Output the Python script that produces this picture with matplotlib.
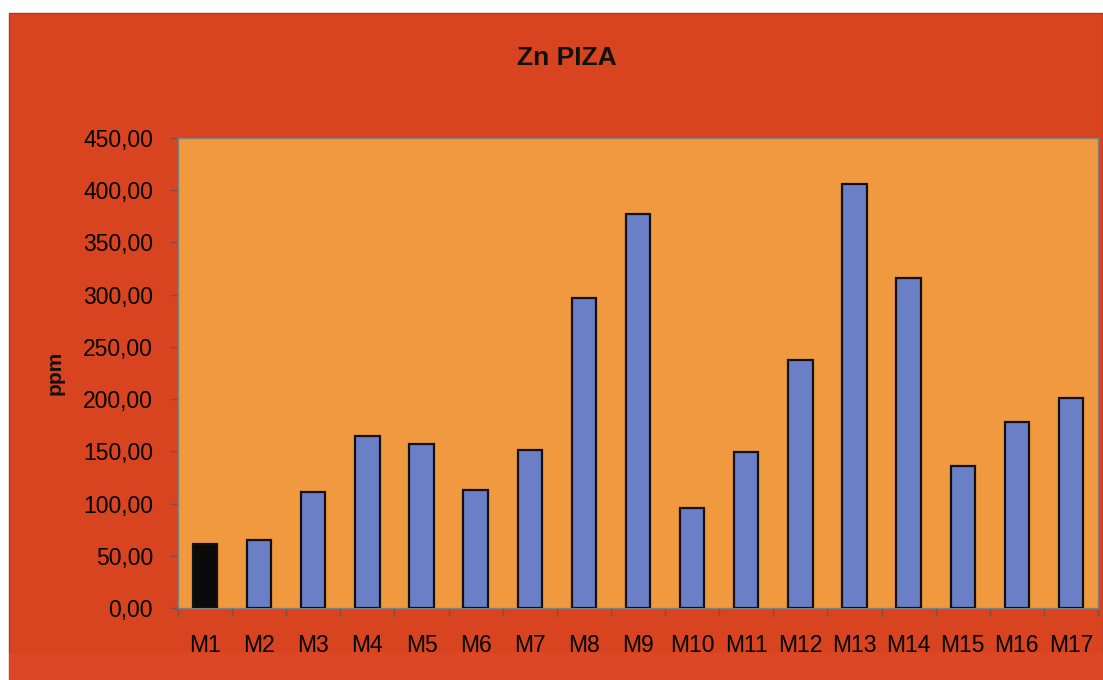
import matplotlib
matplotlib.use("Agg")
import matplotlib.pyplot as plt
from matplotlib.patches import Rectangle
import numpy as np

categories = ["M1", "M2", "M3", "M4", "M5", "M6", "M7", "M8", "M9", "M10",
              "M11", "M12", "M13", "M14", "M15", "M16", "M17"]
values = [61, 65, 111, 165, 157, 113, 151, 297, 377, 96,
          149, 237, 406, 316, 136, 178, 201]
bar_colors = ["#0a0a0a"] + ["#6a7fc6"] * 16
yticks = [0, 50, 100, 150, 200, 250, 300, 350, 400, 450]

plt.rcParams['font.family'] = ['Liberation Sans', 'DejaVu Sans']

W, H = 1103, 680
fig = plt.figure(figsize=(W / 100, H / 100), dpi=100)
fig.patch.set_facecolor("white")

# chart area background (red)
bg = Rectangle((9 / W, 0), (W - 9) / W, (H - 13) / H,
               transform=fig.transFigure, facecolor="#d8441f",
               edgecolor="#b03a20", linewidth=1.0, zorder=-10)
fig.add_artist(bg)
strip = Rectangle((9 / W, 0), (W - 9) / W, 27 / H,
                  transform=fig.transFigure, facecolor="#dc4826",
                  edgecolor="none", zorder=-9)
fig.add_artist(strip)

ax = fig.add_axes([178 / W, (H - 608) / H, 920 / W, 470 / H])
ax.set_zorder(1)
ax.set_facecolor("#f0993f")

x = np.arange(len(categories))
ax.bar(x, values, width=0.45, color=bar_colors, edgecolor="#111111", linewidth=1.6, zorder=3)

ax.set_xlim(-0.5, len(categories) - 0.5)
ax.set_ylim(0, 450)
ax.set_yticks(yticks)
ax.set_yticklabels([f"{v:.2f}".replace(".", ",") for v in yticks], fontsize=16.5)
ax.set_xticks(x)
ax.set_xticklabels(categories, fontsize=16.5)
ax.tick_params(axis="x", length=0, pad=19)
ax.set_xticks(np.arange(-0.5, len(categories), 1.0), minor=True)
ax.tick_params(axis="x", which="minor", length=6, color="#7a5040", width=1)
ax.tick_params(axis="y", length=6, color="#7a5040", width=1, pad=12)

for s in ax.spines.values():
    s.set_color("#808080")
    s.set_linewidth(1.0)

fig.text(55 / W, 1 - 373 / H, "ppm", rotation=90, ha="center", va="center",
         fontsize=15, fontweight="bold", color="#111111", zorder=5)

fig.text(567 / W, 1 - 58 / H, "Zn PIZA", ha="center", va="center",
         fontsize=19, fontweight="bold", color="#111111", zorder=5)

fig.savefig("out.png", dpi=100, facecolor=fig.get_facecolor())
